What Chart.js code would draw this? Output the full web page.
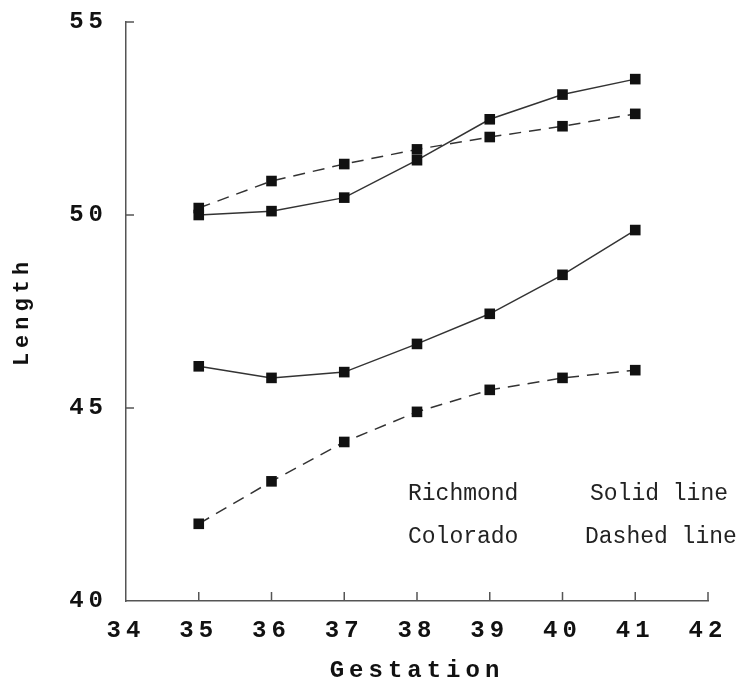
<!DOCTYPE html>
<html>
<head>
<meta charset="utf-8">
<script src="https://cdn.jsdelivr.net/npm/chart.js@4/dist/chart.umd.min.js"></script>
<style>
  html, body { margin: 0; padding: 0; background: #fff; }
  #wrap { position: relative; width: 742px; height: 685px; }
</style>
</head>
<body>
<div id="wrap"><canvas id="lengthChart"></canvas></div>
<script>
// values
const gestation = [35, 36, 37, 38, 39, 40, 41];
const richmondUpper = [50.0, 50.1, 50.45, 51.42, 52.48, 53.12, 53.52];
const coloradoUpper = [50.18, 50.88, 51.32, 51.7, 52.02, 52.3, 52.62];
const richmondLower = [46.08, 45.78, 45.93, 46.66, 47.44, 48.45, 49.61];
const coloradoLower = [42.0, 43.1, 44.12, 44.9, 45.47, 45.78, 45.98];
const xTickValues = [34, 35, 36, 37, 38, 39, 40, 41, 42];
const yTickValues = [40, 45, 50, 55];
const legendRows = [['Richmond', 'Solid line'], ['Colorado', 'Dashed line']];

const monoFont = '"Courier New", "Liberation Mono", monospace';
const lineColor = '#333';

function series(values, dashed) {
  return {
    data: gestation.map((g, i) => ({ x: g, y: values[i] })),
    borderColor: lineColor,
    borderWidth: 1.5,
    borderDash: dashed ? [12, 8] : [],
    pointStyle: 'rect',
    pointRadius: 7.5,
    pointBackgroundColor: '#111',
    pointBorderColor: '#111',
    pointBorderWidth: 0,
    tension: 0,
    clip: false
  };
}

// spaced-out bold axis text, plus inward tick marks and the text key
const axisStyle = {
  id: 'axisStyle',
  beforeDraw(chart) {
    chart.ctx.letterSpacing = '5px';
  },
  beforeDatasetsDraw(chart) {
    chart.ctx.letterSpacing = '0px';
  },
  afterDraw(chart) {
    const ctx = chart.ctx;
    const xs = chart.scales.x, ys = chart.scales.y;
    ctx.save();
    ctx.letterSpacing = '0px';
    ctx.strokeStyle = '#555';
    ctx.lineWidth = 1.5;
    ctx.beginPath();
    xTickValues.slice(1).forEach(v => {
      const px = xs.getPixelForValue(v);
      ctx.moveTo(px, ys.bottom);
      ctx.lineTo(px, ys.bottom - 9);
    });
    yTickValues.slice(1).forEach(v => {
      const py = ys.getPixelForValue(v);
      ctx.moveTo(xs.left, py);
      ctx.lineTo(xs.left + 8, py);
    });
    ctx.stroke();

    ctx.fillStyle = '#222';
    ctx.font = '23px ' + monoFont;
    ctx.textBaseline = 'alphabetic';
    legendRows.forEach((row, i) => {
      const y = 500 + i * 43;
      ctx.fillText(row[0], 408, y);
      ctx.fillText(row[1], i === 0 ? 590 : 585, y);
    });
    ctx.restore();
  }
};

new Chart(document.getElementById('lengthChart'), {
  type: 'line',
  data: {
    datasets: [
      series(richmondUpper, false),
      series(coloradoUpper, true),
      series(richmondLower, false),
      series(coloradoLower, true)
    ]
  },
  options: {
    responsive: true,
    maintainAspectRatio: false,
    animation: false,
    layout: { padding: { top: 22, right: 34, left: 0, bottom: 0 } },
    plugins: { legend: { display: false }, tooltip: { enabled: false } },
    scales: {
      x: {
        type: 'linear',
        min: 34,
        max: 42,
        afterFit: s => { s.height = 84; s.paddingLeft = 0; s.paddingRight = 0; },
        afterBuildTicks: s => { s.ticks = xTickValues.map(v => ({ value: v })); },
        border: { display: true, color: '#555', width: 1.5 },
        grid: { display: true, drawOnChartArea: false, drawTicks: false },
        ticks: {
          color: '#111',
          padding: 16,
          maxRotation: 0,
          autoSkip: false,
          font: { family: monoFont, size: 24, weight: 'bold' }
        },
        title: {
          display: true,
          text: 'Gestation',
          color: '#111',
          padding: { top: 0, bottom: 0 },
          font: { family: monoFont, size: 24, weight: 'bold' }
        }
      },
      y: {
        type: 'linear',
        min: 40,
        max: 55,
        afterFit: s => { s.width = 126; s.paddingTop = 0; s.paddingBottom = 0; },
        afterBuildTicks: s => { s.ticks = yTickValues.map(v => ({ value: v })); },
        border: { display: true, color: '#555', width: 1.5 },
        grid: { display: true, drawOnChartArea: false, drawTicks: false },
        ticks: {
          color: '#111',
          padding: 18,
          font: { family: monoFont, size: 24, weight: 'bold' }
        },
        title: {
          display: true,
          text: 'Length',
          color: '#111',
          padding: { top: 9, bottom: 0 },
          font: { family: monoFont, size: 22, weight: 'bold' }
        }
      }
    }
  },
  plugins: [axisStyle]
});
</script>
</body>
</html>
